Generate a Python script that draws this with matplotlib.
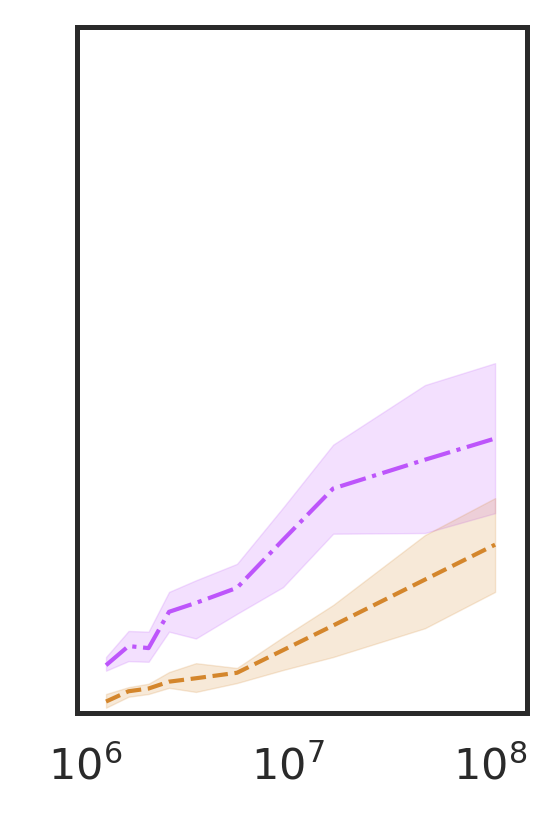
import numpy as np
import matplotlib
matplotlib.use("Agg")
import matplotlib.pyplot as plt

# ---- data ----
x_vals = [1.27e6, 1.64e6, 2.06e6, 2.60e6, 3.53e6, 5.63e6, 9.5e6, 1.68e7, 4.77e7, 1.059e8]

purple_mean = [0.069, 0.097, 0.094, 0.147, 0.160, 0.182, 0.252, 0.327, 0.369, 0.400]
purple_upper = [0.081, 0.119, 0.118, 0.176, 0.193, 0.217, 0.299, 0.391, 0.478, 0.510]
purple_lower = [0.061, 0.075, 0.074, 0.118, 0.108, 0.144, 0.183, 0.261, 0.262, 0.291]

orange_mean = [0.016, 0.031, 0.035, 0.045, 0.050, 0.058, 0.091, 0.127, 0.194, 0.245]
orange_upper = [0.027, 0.037, 0.042, 0.059, 0.072, 0.065, 0.110, 0.157, 0.259, 0.313]
orange_lower = [0.007, 0.023, 0.027, 0.036, 0.030, 0.043, 0.062, 0.081, 0.123, 0.176]

x_ticks = [1e6, 1e7, 1e8]

PURPLE = "#bd55fb"
ORANGE = "#d4862c"
DARK = "#2a2a2a"

fig = plt.figure(figsize=(5.59, 8.21), dpi=100)
W, H = 559, 821
left, right, top, bottom = 76.5, 526.7, 27.5, 712.5
ax = fig.add_axes([left / W, (H - bottom) / H, (right - left) / W, (bottom - top) / H])

ax.fill_between(x_vals, purple_lower, purple_upper, color=PURPLE, alpha=0.18, linewidth=1)
ax.plot(x_vals, purple_mean, color=PURPLE, linestyle="-.", linewidth=3.0)

ax.fill_between(x_vals, orange_lower, orange_upper, color=ORANGE, alpha=0.18, linewidth=1)
ax.plot(x_vals, orange_mean, color=ORANGE, linestyle="--", linewidth=3.0)

ax.set_xscale("log")
ax.set_xlim(10 ** 5.958, 10 ** 8.181)
ax.set_ylim(0, 1)
ax.set_xticks(x_ticks)
ax.set_yticks([])
ax.tick_params(axis="x", which="both", length=0, pad=24, labelsize=31, labelcolor=DARK)
ax.tick_params(axis="x", which="minor", labelbottom=False)

for s in ax.spines.values():
    s.set_linewidth(3.6)
    s.set_color(DARK)

fig.savefig("out.png", dpi=100)
